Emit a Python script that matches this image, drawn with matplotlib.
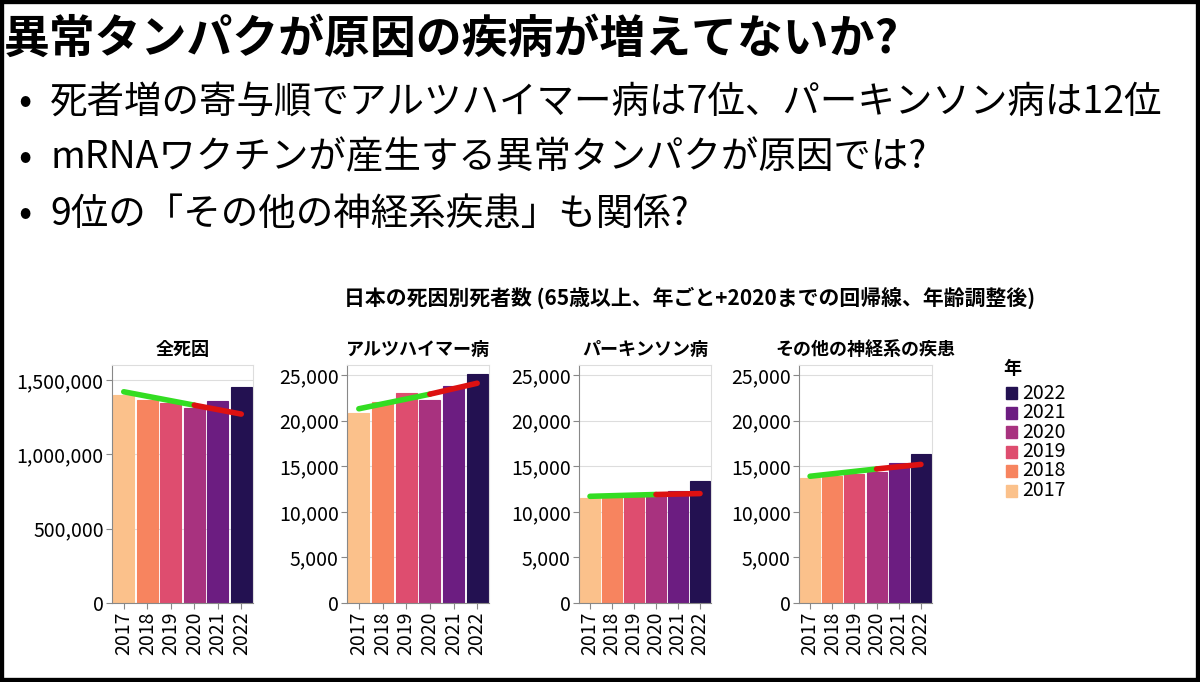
import matplotlib
matplotlib.use("Agg")
import matplotlib.pyplot as plt
import numpy as np

plt.rcParams['font.family'] = ['Noto Sans CJK JP', 'DejaVu Sans']

years = ["2017", "2018", "2019", "2020", "2021", "2022"]
colors = ["#fbc18b", "#f7845f", "#de4d6f", "#a8327f", "#6c1d81", "#231151"]
titles = ["全死因", "アルツハイマー病", "パーキンソン病", "その他の神経系の疾患"]
all_deaths = [1397000, 1362000, 1345000, 1310000, 1355000, 1455000]
alzheimer = [20800, 22000, 23000, 22300, 23800, 25100]
parkinson = [11500, 11600, 11700, 11700, 12300, 13400]
other_neuro = [13700, 13900, 14100, 14400, 15400, 16300]
# regression line values at 2017, 2020, 2022
reg_all = [1420000, 1330000, 1270000]
reg_alz = [21300, 22900, 24100]
reg_par = [11700, 11900, 12000]
reg_oth = [13900, 14700, 15200]

series = [all_deaths, alzheimer, parkinson, other_neuro]
regs = [reg_all, reg_alz, reg_par, reg_oth]
ylims = [1600000, 26100, 26100, 26100]
yticks = [[0, 500000, 1000000, 1500000]] + [[0, 5000, 10000, 15000, 20000, 25000]] * 3
axpos = [(112, 253), (347, 489), (579, 711), (799, 932)]

W, H = 1200, 682
fig = plt.figure(figsize=(12, 6.82), dpi=100)
fig.patches.append(plt.Rectangle((0, 0), 1, 1, transform=fig.transFigure,
                                 fill=False, edgecolor="black", linewidth=6))

fig.text(4/W, 1 - 40/H, "異常タンパクが原因の疾病が増えてないか?", fontsize=33,
         fontweight="bold", va="center", ha="left")
bullets = ["死者増の寄与順でアルツハイマー病は7位、パーキンソン病は12位",
           "mRNAワクチンが産生する異常タンパクが原因では?",
           "9位の「その他の神経系疾患」も関係?"]
for i, b in enumerate(bullets):
    y = 1 - (102 + 56*i)/H
    fig.text(18/W, y, "•", fontsize=28, va="center")
    fig.text(50/W, y, b, fontsize=27, va="center")

fig.text(690/W, 1 - 298/H, "日本の死因別死者数 (65歳以上、年ごと+2020までの回帰線、年齢調整後)",
         fontsize=15, fontweight="bold", ha="center", va="center")

top, bottom = 365, 603
x = np.arange(len(years))
for k in range(4):
    l, r = axpos[k]
    ax = fig.add_axes([l/W, 1 - bottom/H, (r-l)/W, (bottom-top)/H])
    ax.bar(x, series[k], width=0.9, color=colors, edgecolor=colors, linewidth=0.8, zorder=2)
    ax.plot([0, 3], regs[k][:2], color="#33dd22", linewidth=4, solid_capstyle="round", zorder=3)
    ax.plot([3, 5], regs[k][1:], color="#dd1111", linewidth=4, solid_capstyle="round", zorder=3)
    ax.set_xlim(-0.5, 5.5)
    ax.set_ylim(0, ylims[k])
    ax.set_yticks(yticks[k])
    ax.set_yticklabels([f"{v:,}" for v in yticks[k]], fontsize=14)
    ax.set_xticks(x)
    ax.set_xticklabels(years, rotation=90, fontsize=14)
    ax.grid(axis="y", color="#dddddd", linewidth=0.8, zorder=0)
    for s in ["top", "right"]:
        ax.spines[s].set_color("#dddddd")
    for s in ["left", "bottom"]:
        ax.spines[s].set_color("#888888")
    ax.tick_params(color="#888888", length=4, pad=2)
    ax.set_title(titles[k], fontsize=13, fontweight="bold", pad=7)

# legend
fig.text(1003/W, 1 - 368/H, "年", fontsize=13, fontweight="bold", va="center")
for i, (yr, c) in enumerate(zip(years[::-1], colors[::-1])):
    y = 393 + i*19.5
    fig.patches.append(plt.Rectangle((1006/W, 1 - (y+6)/H), 11/W, 12/H,
                                     transform=fig.transFigure, color=c))
    fig.text(1022/W, 1 - y/H, yr, fontsize=14, va="center")

fig.savefig("out.png", dpi=100)
